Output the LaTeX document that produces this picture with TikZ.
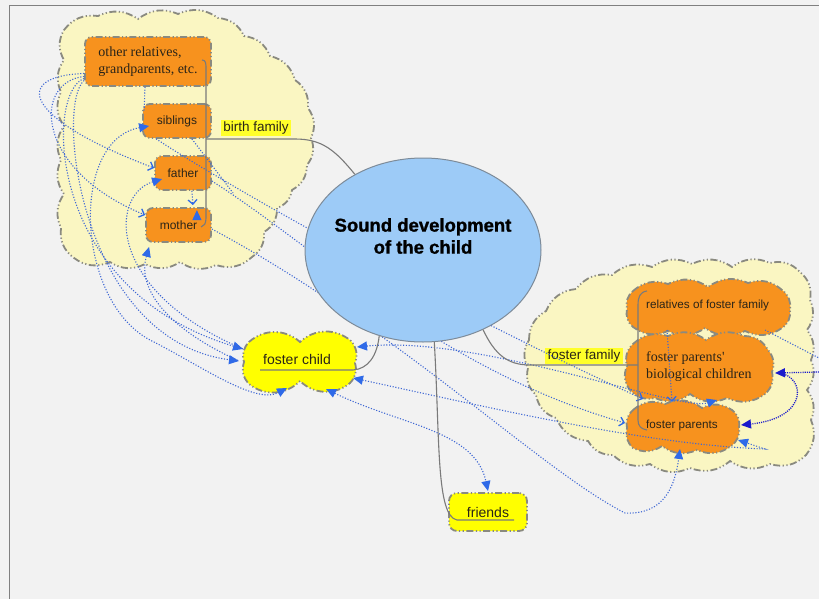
\documentclass[tikz,border=0pt]{standalone}
\usepackage{fontspec}
\setmainfont{Liberation Sans}
\newfontfamily\serifrm{Liberation Serif}
\newfontfamily\heavyfont[FakeBold=1.2]{Liberation Sans Bold}
\usetikzlibrary{arrows.meta,shapes.geometric}
\definecolor{bg}{HTML}{F2F2F2}
\definecolor{frameGray}{HTML}{808080}
\definecolor{cloudyel}{HTML}{FAF6C2}
\definecolor{borderGray}{HTML}{8A8A80}
\definecolor{boxorange}{HTML}{F7921E}
\definecolor{brightyel}{HTML}{FFFF00}
\definecolor{lblyel}{HTML}{FFFF2A}
\definecolor{circblue}{HTML}{9DCBF7}
\definecolor{circborder}{HTML}{7D8B99}
\definecolor{lineblue}{HTML}{3F68D4}
\definecolor{tipblue}{HTML}{2F6AE8}
\definecolor{darkblue}{HTML}{1A1ACC}
\definecolor{connGray}{HTML}{7A7A7A}
\definecolor{txt}{HTML}{2A2418}
\tikzset{
  fb/.tip={Triangle[length=10pt,width=9pt,color=tipblue]},
  dfb/.tip={Triangle[length=10pt,width=9pt,color=darkblue]},
  ob/.tip={Straight Barb[length=4.5pt,width=9pt,color=tipblue,line width=1.3pt]},
  bl/.style={draw=lineblue, line width=1.1pt, dash pattern=on 1.1pt off 1.7pt},
  dbl/.style={draw=darkblue, line width=1.3pt, dash pattern=on 1.1pt off 1.1pt},
  gl/.style={draw=connGray, line width=1.1pt},
  dd/.style={draw=borderGray, line width=1.8pt, dash pattern=on 7pt off 2.5pt on 1.2pt off 2.5pt on 1.2pt off 2.5pt},
  cloudshape/.style={dd, fill=cloudyel},
  orangewave/.style={dd, fill=boxorange},
  yelwave/.style={dd, fill=brightyel},
  obox/.style={rectangle, rounded corners=7pt, dd, fill=boxorange, inner sep=0pt, text=txt, font=\fontsize{12}{14}\selectfont},
  ybox/.style={rectangle, rounded corners=8pt, dd, fill=brightyel, inner sep=0pt, text=txt, font=\fontsize{14}{16}\selectfont},
  lbl/.style={fill=lblyel, inner xsep=2.5pt, inner ysep=2pt, text=txt, font=\fontsize{13.5}{16}\selectfont},
  plain/.style={inner sep=0pt, text=txt},
  bb/.style={bend left=30},
  bw/.style={bend left=42},
}
\begin{document}
\begin{tikzpicture}[x=1pt,y=-1pt]
\useasboundingbox (0,0) rectangle (819,599);
\fill[bg] (0,0) rectangle (819,599);
\draw[frameGray, line width=1pt] (819,6) -- (9,6) -- (9,599);

% birth family cloud
\draw[cloudshape] (64,30) to[bb] (98,16) to[bb] (138,19) to[bb] (178,14) to[bb] (218,18) to[bb] (244,36) to[bb] (270,56) to[bb] (295,80) to[bb] (308,108) to[bb] (311,138) to[bb] (307,165) to[bb] (292,190) to[bb] (277,208) to[bb] (264,232) to[bb] (252,257) to[bb] (216,265) to[bb] (180,262) to[bb] (145,264) to[bb] (110,262) to[bb] (74,258) to[bb] (61,228) to[bb] (64,194) to[bb] (61,160) to[bb] (64,126) to[bb] (61,92) to[bb] (64,60) to[bb] (64,30) -- cycle;

% foster family cloud
\draw[cloudshape] (529,340) to[bb] (546,311) to[bb] (576,289) to[bb] (612,275) to[bb] (652,267) to[bb] (692,264) to[bb] (732,267) to[bb] (770,263) to[bb] (800,272) to[bb] (810,300) to[bb] (807,330) to[bb] (811,360) to[bb] (807,390) to[bb] (811,420) to[bb] (806,455) to[bb] (770,464) to[bb] (730,461) to[bb] (690,468) to[bb] (650,464) to[bb] (613,455) to[bb] (588,441) to[bb] (556,418) to[bb] (536,395) to[bb] (528,368) to[bb] (529,340) -- cycle;

% birth family members
\node[obox, minimum width=126pt, minimum height=49pt] (gp) at (148,61.5) {\serifrm\fontsize{14}{17}\selectfont\begin{tabular}{@{}l@{}}other relatives,\\grandparents, etc.\end{tabular}};
\node[obox, minimum width=68pt, minimum height=34pt] (sib) at (177,121) {siblings};
\node[obox, minimum width=56pt, minimum height=34pt] (fa) at (183,173) {father};
\node[obox, minimum width=65pt, minimum height=34pt] (mo) at (178.5,225) {mother};

% foster family members (wavy)
\draw[orangewave] (633,291) to[bb] (668,284) to[bb] (708,287) to[bb] (748,283) to[bb] (782,290) to[bb] (790,310) to[bb] (782,328) to[bb] (745,331) to[bb] (705,328) to[bb] (668,331) to[bb] (633,327) to[bb] (627,309) to[bb] (633,291) -- cycle;
\draw[orangewave] (633,344) to[bb] (668,336) to[bb] (706,340) to[bb] (744,336) to[bb] (768,350) to[bb] (772,372) to[bb] (765,394) to[bb] (727,398) to[bb] (690,394) to[bb] (655,398) to[bb] (630,390) to[bb] (627,366) to[bb] (633,344) -- cycle;
\draw[orangewave] (633,410) to[bb] (665,404) to[bb] (702,408) to[bb] (732,410) to[bb] (739,428) to[bb] (731,446) to[bb] (697,450) to[bb] (662,446) to[bb] (633,448) to[bb] (627,428) to[bb] (633,410) -- cycle;
\node[plain, anchor=west, font=\fontsize{11.7}{14}\selectfont] (rel) at (646,305) {relatives of foster family};
\node[plain, anchor=west, font=\serifrm\fontsize{14}{17}\selectfont, align=left] (bc) at (646,367) {foster parents'\\biological children};
\node[plain, anchor=west, font=\fontsize{11.7}{14}\selectfont] (fp) at (646,425) {foster parents};

% foster child
\draw[yelwave] (249,342) to[bw] (300,342) to[bw] (351,341) to[bb] (355,363) to[bb] (350,383) to[bw] (300,381) to[bw] (249,384) to[bb] (244,362) to[bb] (249,342) -- cycle;
\node[plain, font=\fontsize{14}{16}\selectfont] (fc) at (297,359) {foster child};
% friends
\node[ybox, minimum width=78pt, minimum height=38pt] (fr) at (488,512) {friends};

% labels
\node[lbl] (bfl) at (256,128) {birth family};
\node[lbl] (ffl) at (584,356) {foster family};

% coordinates
\coordinate (fcA) at (243,349);
\coordinate (fcB) at (239,361);
\coordinate (fcC) at (287,388);
\coordinate (fcD) at (326,389);
\coordinate (fcE) at (357,347);
\coordinate (fcF) at (353,378);
\coordinate (fpT1) at (643,399);
\coordinate (fpT2) at (672,402);
\coordinate (bcB) at (717,400);
\coordinate (fpL) at (625,423);
\coordinate (fpBR) at (738,440);
\coordinate (fpB) at (680,449);
\coordinate (bcR) at (775,373);
\coordinate (fpR) at (741,425);
\coordinate (edgeR) at (819,372);
\coordinate (edgeR2) at (819,358);
\coordinate (relB) at (667,330);
\coordinate (relR) at (765,330);
\coordinate (frT) at (488,491);
\coordinate (sibend) at (233,193);

% blue dotted connectors, birth family side
\draw[bl,-{ob}] ([yshift=-12pt]gp.west) .. controls (12,76) and (22,118) .. ([yshift=5pt]fa.west);
\draw[bl,-{ob}] ([yshift=-15pt]gp.west) .. controls (32,82) and (35,170) .. ([yshift=10pt]mo.west);
\draw[bl,-{fb}] ([yshift=-17pt]gp.west) .. controls (45,92) and (45,290) .. (fcA);
\draw[bl,-{fb}] ([yshift=-19pt]gp.west) .. controls (55,105) and (80,340) .. (fcB);
\draw[bl,{fb}-{fb}] ([xshift=7pt,yshift=-5pt]sib.west) .. controls (70,140) and (75,300) .. (150,340) .. controls (200,365) and (255,405) .. (fcC);
\draw[bl,{fb}-] ([xshift=8pt,yshift=-6pt]fa.west) .. controls (110,195) and (105,290) .. (fcA);
\draw[bl,{fb}-] ([xshift=4pt,yshift=-4pt]mo.south west) .. controls (138,285) and (160,325) .. (fcB);
\draw[bl] ([xshift=-3pt]gp.south) -- ([xshift=2pt,yshift=-8pt]sib.north west);
\draw[bl,-{ob}] ([xshift=-20pt]fa.south east) -- ([xshift=-19pt,yshift=2pt]mo.north east);
\draw[bl,-{fb}] ([xshift=-15pt,yshift=-12pt]mo.north east) -- ([xshift=-15pt,yshift=-3pt]mo.north east);
\draw[bl] ([xshift=-20pt]sib.south east) -- (sibend);

% birth family to foster family (behind the circle)
\draw[bl,-{ob}] ([xshift=14pt]sib.south west) .. controls (250,200) and (470,320) .. (fpT1);
\draw[bl,-{ob}] ([yshift=-8pt]fa.east) .. controls (320,250) and (440,370) .. (fpL);
\draw[bl,-{fb}] ([yshift=-4pt]mo.east) .. controls (400,330) and (540,470) .. (625,513) .. controls (665,515) and (675,485) .. (fpB);

% foster child connectors
\draw[bl,{fb}-{fb}] (fcE) .. controls (480,335) and (680,412) .. (bcB);
\draw[bl,{fb}-{fb}] (fcF) .. controls (500,410) and (650,445) .. (765,449) -- (fpBR);
\draw[bl,{fb}-{fb}] (fcD) .. controls (400,425) and (475,430) .. (frT);

% foster family internal
\draw[bl,-{ob}] (relB) -- (fpT2);
\draw[bl] (relR) -- (edgeR2);
\draw[dbl,-{dfb}] (edgeR) -- (bcR);
\draw[dbl,-{dfb}] ([xshift=4pt]bcR) .. controls (805,376) and (810,418) .. (fpR);

% central circle
\node[ellipse, draw=circborder, line width=1pt, fill=circblue, minimum width=236pt, minimum height=184pt, inner sep=0pt] (sd) at (423,250) {};
\node[plain, font=\heavyfont\fontsize{18.5}{22}\selectfont, text=black, align=center] (title) at (423,236) {Sound development\\of the child};

% gray tree connectors
\coordinate (bfT) at (206,68);
\coordinate (bfB) at (206,218);
\coordinate (bfJ) at (206,139);
\draw[gl] (sd.132) .. controls (335,150) and (322,139) .. (295,139) -- (bfJ);
\draw[gl] (202,60) .. controls (206,60) and (206,64) .. (bfT) -- (bfB) .. controls (206,224) and (204,226) .. (201,227);
\draw[gl] (sd.-53) .. controls (495,355) and (508,365) .. (530,365) -- (638,365);
\draw[gl] (647,291) .. controls (640,292) and (638,297) .. (638,305) -- (638,420) .. controls (638,426) and (641,429) .. (647,430);
\draw[gl] (sd.-117) .. controls (377,356) and (368,369) .. (353,370) -- (260,370);
\draw[gl] (sd.-83) .. controls (440,440) and (436,516) .. (457,520) -- (514,520);
\end{tikzpicture}
\end{document}
